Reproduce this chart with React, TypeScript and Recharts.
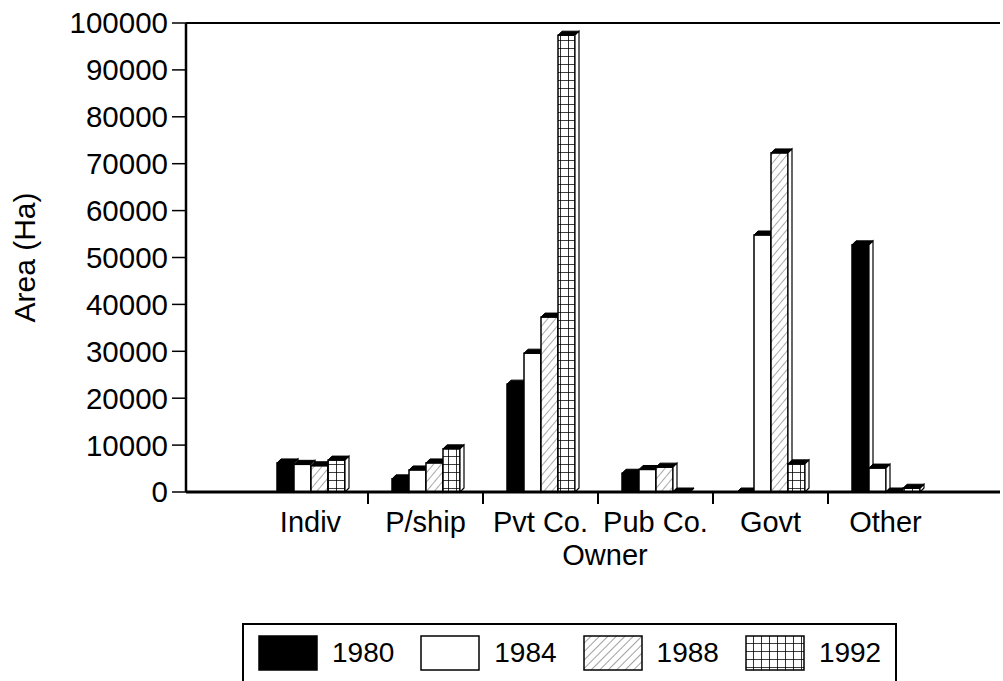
import React from 'react';
import {
  BarChart,
  Bar,
  XAxis,
  YAxis,
  Legend,
  ReferenceLine,
} from 'recharts';

// owner categories and yearly areas (Ha)
const owners = ['Indiv', 'P/ship', 'Pvt Co.', 'Pub Co.', 'Govt', 'Other'];
const area1980 = [6200, 2800, 23000, 4000, 0, 52700];
const area1984 = [5900, 4700, 29600, 4800, 54800, 5100];
const area1988 = [5600, 6200, 37300, 5300, 72300, 0];
const area1992 = [6800, 9200, 97400, 0, 6000, 800];
const years = ['1980', '1984', '1988', '1992'];
const yTicks = [0, 10000, 20000, 30000, 40000, 50000, 60000, 70000, 80000, 90000, 100000];

const data = owners.map((owner, i) => ({
  owner,
  y1980: area1980[i],
  y1984: area1984[i],
  y1988: area1988[i],
  y1992: area1992[i],
}));

const FONT = '"Liberation Sans", Arial, Helvetica, sans-serif';
const fills = ['#000', '#fff', 'url(#hatch)', 'url(#grid)'];

// bar with a small 3D cap and side face
function Bar3D(props: any) {
  const { x, y, width, height, fill } = props;
  if (x == null || width == null) return null;
  const d = 4;
  const h = Math.max(height, 0);
  return (
    <g>
      <rect x={x} y={y} width={width} height={h} fill={fill} stroke="#000" strokeWidth={1.5} />
      <path
        d={`M${x},${y} L${x + d},${y - d} L${x + width + d},${y - d} L${x + width},${y} Z`}
        fill="#000"
        stroke="#000"
        strokeWidth={1}
      />
      <path
        d={`M${x + width},${y} L${x + width + d},${y - d} L${x + width + d},${y + h - d} L${x + width},${y + h} Z`}
        fill="#fff"
        stroke="#000"
        strokeWidth={1.2}
      />
    </g>
  );
}

// category label with separator tick between groups
function OwnerTick(props: any) {
  const { x, y, payload } = props;
  const off = payload.offset ?? 0;
  return (
    <g>
      {payload.index > 0 && (
        <line x1={x - off} x2={x - off} y1={y} y2={y + 12} stroke="#000" strokeWidth={2} />
      )}
      <text x={x} y={y + 40} textAnchor="middle" fontSize={29} fontFamily={FONT} fill="#000">
        {payload.value}
      </text>
    </g>
  );
}

function YearLegend() {
  return (
    <div
      style={{
        display: 'flex',
        alignItems: 'center',
        border: '2px solid #000',
        padding: '10px 14px 10px 14px',
        fontFamily: FONT,
        fontSize: 28,
        background: '#fff',
      }}
    >
      {years.map((yr, i) => (
        <div key={yr} style={{ display: 'flex', alignItems: 'center', marginRight: i < 3 ? 26 : 0 }}>
          <svg width={60} height={36} style={{ display: 'block' }}>
            <defs>
              <pattern id={`lhatch${i}`} width="6" height="6" patternUnits="userSpaceOnUse" patternTransform="rotate(45)">
                <line x1="0" y1="0" x2="0" y2="6" stroke="#444" strokeWidth="1" />
              </pattern>
              <pattern id={`lgrid${i}`} width="8" height="8" patternUnits="userSpaceOnUse">
                <path d="M0,0 L8,0 M0,0 L0,8" stroke="#000" strokeWidth="1.6" fill="none" />
              </pattern>
            </defs>
            <rect
              x={1}
              y={1}
              width={58}
              height={34}
              fill={i === 0 ? '#000' : i === 1 ? '#fff' : i === 2 ? `url(#lhatch${i})` : `url(#lgrid${i})`}
              stroke="#000"
              strokeWidth={1.5}
            />
          </svg>
          <span style={{ marginLeft: 14 }}>{yr}</span>
        </div>
      ))}
    </div>
  );
}

export default function App() {
  return (
    <div style={{ position: 'absolute', left: 0, top: 0, width: 1003, height: 681, background: '#fff' }}>
      <BarChart
        width={1003}
        height={681}
        data={data}
        margin={{ top: 23, right: 3, left: 0, bottom: 99 }}
        barGap={0}
        barSize={17}
      >
        <defs>
          <pattern id="hatch" width="6" height="6" patternUnits="userSpaceOnUse" patternTransform="rotate(40)">
            <rect width="6" height="6" fill="#fff" />
            <line x1="0" y1="0" x2="0" y2="6" stroke="#555" strokeWidth="1" />
          </pattern>
          <pattern id="grid" width="8" height="8" patternUnits="userSpaceOnUse">
            <rect width="8" height="8" fill="#fff" />
            <path d="M0,0 L8,0 M0,0 L0,8" stroke="#000" strokeWidth="1.6" fill="none" />
          </pattern>
        </defs>

        <XAxis
          dataKey="owner"
          type="category"
          padding={{ left: 67, right: 57 }}
          axisLine={{ stroke: '#000', strokeWidth: 3 }}
          tickLine={false}
          tickSize={0}
          tickMargin={0}
          height={90}
          interval={0}
          tick={<OwnerTick />}
          label={{
            value: 'Owner',
            position: 'insideTop',
            offset: 52,
            dx: 12,
            style: { fontSize: 29, fontFamily: FONT, fill: '#000' },
          }}
        />

        <YAxis
          domain={[0, 100000]}
          ticks={yTicks}
          interval={0}
          width={186}
          axisLine={{ stroke: '#000', strokeWidth: 2.5 }}
          tickLine={{ stroke: '#000', strokeWidth: 1.5 }}
          tickSize={14}
          tickMargin={4}
          tick={{ fontSize: 29.5, fontFamily: FONT, fill: '#000' }}
          label={{
            value: 'Area (Ha)',
            angle: -90,
            position: 'insideLeft',
            offset: 24,
            style: { textAnchor: 'middle', fontSize: 30, fontFamily: FONT, fill: '#000' },
          }}
        />

        {/* top frame of the plot */}
        <ReferenceLine y={100000} stroke="#000" strokeWidth={2} ifOverflow="extendDomain" />

        <Legend
          layout="vertical"
          verticalAlign="middle"
          align="center"
          content={() => <YearLegend />}
          wrapperStyle={{ position: 'absolute', top: 623, left: 242, width: 'auto', height: 'auto' }}
        />

        {['y1980', 'y1984', 'y1988', 'y1992'].map((key, i) => (
          <Bar
            key={key}
            dataKey={key}
            name={years[i]}
            fill={fills[i]}
            shape={<Bar3D />}
            isAnimationActive={false}
          />
        ))}
      </BarChart>
    </div>
  );
}
